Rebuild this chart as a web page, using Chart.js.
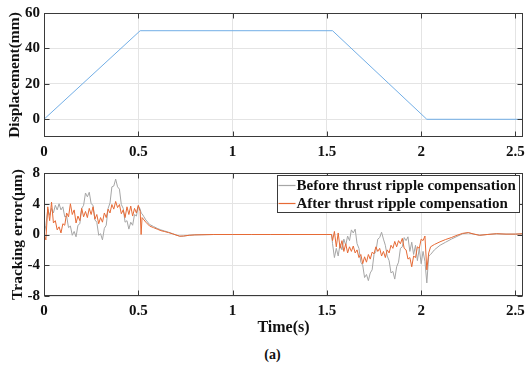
<!DOCTYPE html>
<html>
<head>
<meta charset="utf-8">
<script src="https://cdn.jsdelivr.net/npm/chart.js@4.4.1/dist/chart.umd.min.js"></script>
<style>
  body { margin: 0; background: #fff; width: 525px; height: 365px; overflow: hidden; position: relative; }
  canvas { display: block; }
  #caption { position: absolute; left: 10px; width: 525px; top: 347px; text-align: center;
             font: bold 14px "Liberation Serif", "Times New Roman", serif; color: #111; }
</style>
</head>
<body>
<canvas id="dispChart" width="525" height="160"></canvas>
<canvas id="errChart" width="525" height="178"></canvas>
<div id="caption">(a)</div>
<script>
// ---- data ----
var xTicks = [0, 0.5, 1, 1.5, 2, 2.5];
var dispTicks = [0, 20, 40, 60];
var errTicks = [-8, -4, 0, 4, 8];

var dispTime = [0, 0.51, 1.53, 2.03, 2.54];
var dispValue = [0, 50, 50, 0, 0];

// sampled stretches, 0.01 s apart
var seg1Start = 0, seg2Start = 1.53, SAMPLE_DT = 0.01;
var beforeSeg1 = [0, 1.2, 3.3, 2.5, 3.4, 2.8, 3.8, 3.2, 4.0, 3.2, 3.6, 2.3, 2.4, 0.9, 1.1, -0.1, 0.4, -0.3,
  1.2, 1.4, 3.4, 3.8, 5.4, 4.9, 5.5, 4.0, 3.8, 1.9, 1.6, -0.1, 0.1, -0.7, 0.8, 1.2, 3.4, 4.1, 6.2, 6.3,
  7.2, 6.2, 5.9, 3.9, 3.4, 1.6, 1.8, 0.7, 1.6, 1.2, 2.6, 2.4, 3.7, 3.3];
var afterSeg1 = [0, -0.7, 3.6, 1.8, 4.2, 1.5, 1.8, 0.6, 1.0, 0.2, 1.4, 1.2, 2.8, 2.3, 4.0, 2.6, 3.2, 1.5,
  2.4, 1.8, 3.4, 2.3, 3.0, 2.2, 3.4, 2.6, 3.6, 2.0, 2.6, 1.4, 2.2, 1.6, 2.8, 2.2, 3.3, 2.8, 3.9, 3.3,
  4.3, 3.5, 3.9, 2.7, 3.2, 2.2, 3.6, 2.6, 3.7, 2.4, 3.4, 2.8, 3.8, 3.0];
var beforeSeg2 = [-1.2, -3.0, -1.8, -2.8, -1.2, -2.0, -0.6, -1.4, -0.2, -0.8, 0.6, 0.2, 0.7, -1.2, -1.8,
  -3.6, -4.0, -5.6, -5.2, -6.0, -5.0, -4.6, -2.6, -2.2, -0.6, -0.4, 0.3, -0.6, -1.4, -2.8, -3.4, -5.0,
  -4.8, -5.8, -4.2, -3.6, -1.8, -1.6, -0.4, -0.8, -0.3, -2.2, -1.0, -2.6, -1.4, -3.4, -1.8, -3.8, -2.2,
  -3.5, -6.3, -2.8];
var afterSeg2 = [-0.8, 0.4, -1.6, 0.2, -1.8, -0.8, -2.2, -1.2, -2.4, -1.6, -2.2, -1.5, -2.4, -2.0, -3.0,
  -2.6, -3.8, -2.9, -3.6, -2.6, -3.2, -2.3, -2.5, -1.6, -2.2, -1.8, -2.8, -2.2, -3.0, -2.0, -2.4, -1.4,
  -1.8, -0.9, -1.6, -0.8, -1.2, -0.5, -1.8, -2.0, -3.2, -3.0, -4.2, -2.8, -3.0, -1.6, -1.8, -0.6, -0.8,
  -0.2, -4.6, -2.4];

// settling stretches
var settle1Time = [0.515, 0.52, 0.53, 0.54, 0.56, 0.58, 0.60, 0.62, 0.64, 0.66, 0.68, 0.70, 0.72, 0.74,
  0.77, 0.80, 0.90, 1.00, 1.10, 1.20, 1.30, 1.40, 1.50, 1.525];
var beforeSettle1 = [2.8, 2.7, 2.3, 1.9, 1.3, 1.05, 0.8, 0.6, 0.45, 0.3, 0.12, -0.05, -0.22, -0.2, -0.1,
  -0.05, 0, 0, 0, 0, 0, 0, 0, 0];
var afterSettle1 = [0, 2.2, 1.9, 1.6, 1.1, 0.9, 0.7, 0.5, 0.38, 0.25, 0.1, -0.07, -0.22, -0.2, -0.1,
  -0.05, 0, 0, 0, 0, 0, 0, 0, 0];
var settle2Time = [2.05, 2.07, 2.10, 2.13, 2.16, 2.19, 2.22, 2.25, 2.28, 2.31, 2.35, 2.40, 2.45, 2.50, 2.54];
var beforeSettle2 = [-2.6, -2.0, -1.4, -1.0, -0.6, -0.25, 0.1, 0.22, 0.05, -0.1, 0.0, 0.1, 0.05, 0.05, 0.1];
var afterSettle2 = [-1.6, -1.3, -0.95, -0.65, -0.4, -0.1, 0.15, 0.25, 0.05, -0.1, 0.0, 0.1, 0.05, 0.05, 0.1];

var seriesNames = ['Before thrust ripple compensation', 'After thrust ripple compensation'];
var X_MAX = 2.54;

// ---- helpers ----
function sampled(start, values) {
    return values.map(function (v, i) {
        return { x: Math.round((start + i * SAMPLE_DT) * 1000) / 1000, y: v };
    });
}
function paired(times, values) {
    return values.map(function (v, i) { return { x: times[i], y: v }; });
}
function series(seg1, set1, seg2, set2) {
    return sampled(seg1Start, seg1).concat(paired(settle1Time, set1),
        sampled(seg2Start, seg2), paired(settle2Time, set2));
}

var SERIF = '"Liberation Serif", "Times New Roman", serif';
Chart.defaults.font.family = SERIF;
Chart.defaults.font.size = 15;
Chart.defaults.font.weight = 'bold';
Chart.defaults.color = '#111';

var GRID = '#e4e4e4';
var AXIS = '#3a3a3a';

// MATLAB style box with inward ticks on all four sides
var boxPlugin = {
    id: 'matlabBox',
    afterDraw: function (chart) {
        var ctx = chart.ctx, a = chart.chartArea, sx = chart.scales.x, sy = chart.scales.y;
        var L = Math.round(a.left) + 0.5, R = Math.round(a.right) - 0.5;
        var T = Math.round(a.top) + 0.5, B = Math.round(a.bottom) - 0.5;
        ctx.save();
        ctx.strokeStyle = AXIS;
        ctx.lineWidth = 1;
        ctx.beginPath();
        sx.ticks.forEach(function (t) {
            var p = Math.round(sx.getPixelForValue(t.value)) + 0.5;
            ctx.moveTo(p, B); ctx.lineTo(p, B - 5);
            ctx.moveTo(p, T); ctx.lineTo(p, T + 5);
        });
        sy.ticks.forEach(function (t) {
            var p = Math.round(sy.getPixelForValue(t.value)) + 0.5;
            ctx.moveTo(L, p); ctx.lineTo(L + 5, p);
            ctx.moveTo(R, p); ctx.lineTo(R - 5, p);
        });
        ctx.stroke();
        ctx.strokeRect(L, T, R - L, B - T);
        ctx.restore();
    }
};

function xScale(titleText, height) {
    return {
        type: 'linear', min: 0, max: X_MAX,
        afterBuildTicks: function (s) { s.ticks = xTicks.map(function (v) { return { value: v }; }); },
        afterFit: function (s) { s.height = height; s.paddingLeft = 0; s.paddingRight = 0; },
        grid: { color: GRID, drawTicks: false },
        border: { display: false },
        ticks: { padding: 6, maxRotation: 0, autoSkip: false, color: '#111',
                 callback: function (v) { return String(v); } },
        title: titleText ? { display: true, text: titleText, font: { size: 16 }, padding: { top: 0, bottom: 1 } }
                         : { display: false }
    };
}
function yScale(min, max, tickList, titleText, titlePad) {
    return {
        min: min, max: max,
        afterBuildTicks: function (s) { s.ticks = tickList.map(function (v) { return { value: v }; }); },
        afterFit: function (s) { s.width = 44; },
        grid: { color: GRID, drawTicks: false },
        border: { display: false },
        ticks: { padding: 4, color: '#111', callback: function (v) { return String(v); } },
        title: { display: true, text: titleText, font: { size: 15.5 }, padding: { top: titlePad, bottom: 0 } }
    };
}

// ---- top: displacement ----
new Chart(document.getElementById('dispChart'), {
    type: 'line',
    data: {
        datasets: [{
            data: paired(dispTime, dispValue),
            borderColor: '#72aee6', borderWidth: 1, pointRadius: 0, tension: 0
        }]
    },
    options: {
        responsive: false, animation: false, devicePixelRatio: 1,
        layout: { padding: { top: 13, right: 2, left: 0, bottom: 0 } },
        plugins: { legend: { display: false }, tooltip: { enabled: false } },
        scales: {
            x: xScale(null, 23),
            y: yScale(-10, 60, dispTicks, 'Displacement(mm)', 6)
        }
    },
    plugins: [boxPlugin]
});

// ---- bottom: tracking error ----
var COLORS = ['#a6a6a6', '#e66a35'];

var legendPlugin = {
    id: 'boxLegend',
    afterDraw: function (chart) {
        var ctx = chart.ctx;
        var bx = 277.5, by = 15.5, bw = 242, bh = 37;
        ctx.save();
        ctx.fillStyle = '#fff';
        ctx.fillRect(bx, by, bw, bh);
        ctx.strokeStyle = AXIS;
        ctx.lineWidth = 1;
        ctx.strokeRect(bx, by, bw, bh);
        ctx.font = 'bold 15px ' + SERIF;
        ctx.textBaseline = 'middle';
        seriesNames.forEach(function (name, i) {
            var y = by + 9.5 + i * 18;
            ctx.strokeStyle = COLORS[i];
            ctx.lineWidth = 1.2;
            ctx.beginPath();
            ctx.moveTo(bx + 1, Math.round(y) + 0.5);
            ctx.lineTo(bx + 18, Math.round(y) + 0.5);
            ctx.stroke();
            ctx.fillStyle = '#111';
            ctx.fillText(name, bx + 19, y + 1);
        });
        ctx.restore();
    }
};

new Chart(document.getElementById('errChart'), {
    type: 'line',
    data: {
        datasets: [{
            label: seriesNames[0],
            data: series(beforeSeg1, beforeSettle1, beforeSeg2, beforeSettle2),
            borderColor: COLORS[0], borderWidth: 1, pointRadius: 0, tension: 0, order: 2
        }, {
            label: seriesNames[1],
            data: series(afterSeg1, afterSettle1, afterSeg2, afterSettle2),
            borderColor: COLORS[1], borderWidth: 1, pointRadius: 0, tension: 0, order: 1
        }]
    },
    options: {
        responsive: false, animation: false, devicePixelRatio: 1,
        layout: { padding: { top: 12, right: 2, left: 0, bottom: 0 } },
        plugins: { legend: { display: false }, tooltip: { enabled: false } },
        scales: {
            x: xScale('Time(s)', 42),
            y: yScale(-8, 8, errTicks, 'Tracking error(\u03bcm)', 9)
        }
    },
    plugins: [boxPlugin, legendPlugin]
});
</script>
</body>
</html>
